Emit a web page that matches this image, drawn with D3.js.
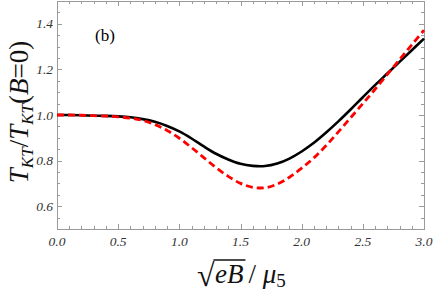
<!DOCTYPE html>
<html>
<head>
<meta charset="utf-8">
<script src="https://cdn.jsdelivr.net/npm/d3@7"></script>
<style>
  body { margin: 0; background: #fff; }
  svg text { font-family: "Liberation Serif", "Times New Roman", "DejaVu Serif", serif; }
</style>
</head>
<body>
<svg width="436" height="292"></svg>
<script>
// sqrt(eB)/mu5 sample points
const xs = [0.0, 0.1, 0.2, 0.3, 0.4, 0.5, 0.6, 0.7, 0.8, 0.9, 1.0,
  1.1, 1.2, 1.3, 1.4, 1.5, 1.6, 1.7, 1.8, 1.9, 2.0,
  2.1, 2.2, 2.3, 2.4, 2.5, 2.6, 2.7, 2.8, 2.9, 3.0];
// black solid curve
const solid = [1.000, 1.000, 0.999, 0.997, 0.996, 0.994, 0.990, 0.982, 0.970, 0.952, 0.928,
  0.897, 0.862, 0.830, 0.805, 0.786, 0.777, 0.776, 0.787, 0.809, 0.840,
  0.878, 0.923, 0.972, 1.024, 1.078, 1.131, 1.182, 1.233, 1.284, 1.335];
// red dashed curve
const dashed = [1.000, 1.000, 0.999, 0.997, 0.995, 0.992, 0.986, 0.976, 0.958, 0.932, 0.898,
  0.857, 0.813, 0.769, 0.731, 0.700, 0.683, 0.681, 0.697, 0.727, 0.767,
  0.812, 0.866, 0.926, 0.988, 1.050, 1.113, 1.178, 1.243, 1.308, 1.372];
const xTicks = [0, 0.5, 1.0, 1.5, 2.0, 2.5, 3.0];
const yTicks = [0.6, 0.8, 1.0, 1.2, 1.4];

const svg = d3.select("svg");
const pLeft = 57, pRight = 424, pTop = 1, pBottom = 229;
const serif = "'Liberation Serif', 'Times New Roman', serif";

const x = d3.scaleLinear().domain([0, 3]).range([pLeft, pRight]);
const y = d3.scaleLinear().domain([0.5, 1.5]).range([pBottom, pTop]);

const frame = "#9a9a9a";

// minor ticks
const xMinor = d3.range(0, 3.0001, 0.1);
const yMinor = d3.range(0.5, 1.5001, 0.05);
const tg = svg.append("g").attr("stroke", frame).attr("stroke-width", 1);

xMinor.forEach((v, i) => {
  const len = i % 5 === 0 ? 5 : 3;
  const px = Math.round(x(v)) + 0.5;
  tg.append("line").attr("x1", px).attr("x2", px).attr("y1", pBottom).attr("y2", pBottom - len);
  tg.append("line").attr("x1", px).attr("x2", px).attr("y1", pTop).attr("y2", pTop + len);
});
yMinor.forEach((v, i) => {
  const len = i % 4 === 2 ? 5 : 3;
  const py = Math.round(y(v)) + 0.5;
  tg.append("line").attr("x1", pLeft).attr("x2", pLeft + len).attr("y1", py).attr("y2", py);
  tg.append("line").attr("x1", pRight).attr("x2", pRight - len).attr("y1", py).attr("y2", py);
});

svg.append("rect")
  .attr("x", pLeft + 0.5).attr("y", pTop + 0.5)
  .attr("width", pRight - pLeft).attr("height", pBottom - pTop)
  .attr("fill", "none").attr("stroke", frame);

// tick labels
svg.append("g").selectAll("text").data(xTicks).join("text")
  .attr("x", d => x(d)).attr("y", 246)
  .attr("text-anchor", "middle").attr("font-family", serif)
  .attr("font-style", "italic").attr("font-size", 13.5).attr("fill", "#333")
  .text(d => d.toFixed(1));

svg.append("g").selectAll("text").data(yTicks).join("text")
  .attr("x", 53).attr("y", d => y(d) + 4.5)
  .attr("text-anchor", "end").attr("font-family", serif)
  .attr("font-style", "italic").attr("font-size", 13.5).attr("fill", "#333")
  .text(d => d.toFixed(1));

// curves
const line = d3.line()
  .x((d, i) => x(xs[i]))
  .y(d => y(d))
  .curve(d3.curveCatmullRom.alpha(0.5));

svg.append("path").datum(solid)
  .attr("d", line).attr("fill", "none")
  .attr("stroke", "#000").attr("stroke-width", 2.6);

svg.append("path").datum(dashed)
  .attr("d", line).attr("fill", "none")
  .attr("stroke", "#f00").attr("stroke-width", 2.8)
  .attr("stroke-dasharray", "7,4");

// panel label
svg.append("text").attr("x", 95).attr("y", 41).attr("font-family", serif)
  .attr("font-size", 17).attr("fill", "#000").text("(b)");

// y label
const yl = svg.append("text")
  .attr("transform", "translate(28,112) rotate(-90)")
  .attr("text-anchor", "middle").attr("font-family", serif)
  .attr("font-size", 27).attr("font-style", "italic").attr("fill", "#111");
yl.append("tspan").text("T");
yl.append("tspan").attr("font-size", 17).attr("dy", 5).text("KT");
yl.append("tspan").attr("dy", -5).attr("font-style", "normal").text("/");
yl.append("tspan").text("T");
yl.append("tspan").attr("font-size", 17).attr("dy", 5).text("KT");
yl.append("tspan").attr("dy", -5).attr("font-style", "normal").text("(");
yl.append("tspan").text("B");
yl.append("tspan").attr("font-style", "normal").text("=0)");

// x label: sqrt(eB) / mu_5
const xl = svg.append("g").attr("font-family", serif).attr("fill", "#111");
const root = xl.append("text").attr("x", 197).attr("y", 286)
  .attr("font-size", 32).text("\u221A");
const rw = root.node().getBBox();
const eb = xl.append("text").attr("x", rw.x + rw.width).attr("y", 283)
  .attr("font-size", 27).attr("font-style", "italic").text("eB");
const ebBox = eb.node().getBBox();
xl.append("line")
  .attr("x1", rw.x + rw.width - 1.5).attr("x2", ebBox.x + ebBox.width + 2)
  .attr("y1", 260).attr("y2", 260)
  .attr("stroke", "#111").attr("stroke-width", 1.5);
const rest = xl.append("text").attr("x", ebBox.x + ebBox.width + 5).attr("y", 283)
  .attr("font-size", 27).attr("font-style", "italic");
rest.append("tspan").attr("font-style", "normal").text("/ ");
rest.append("tspan").text("\u03BC");
rest.append("tspan").attr("font-size", 19).attr("dy", 4).attr("font-style", "normal").text("5");
</script>
</body>
</html>
